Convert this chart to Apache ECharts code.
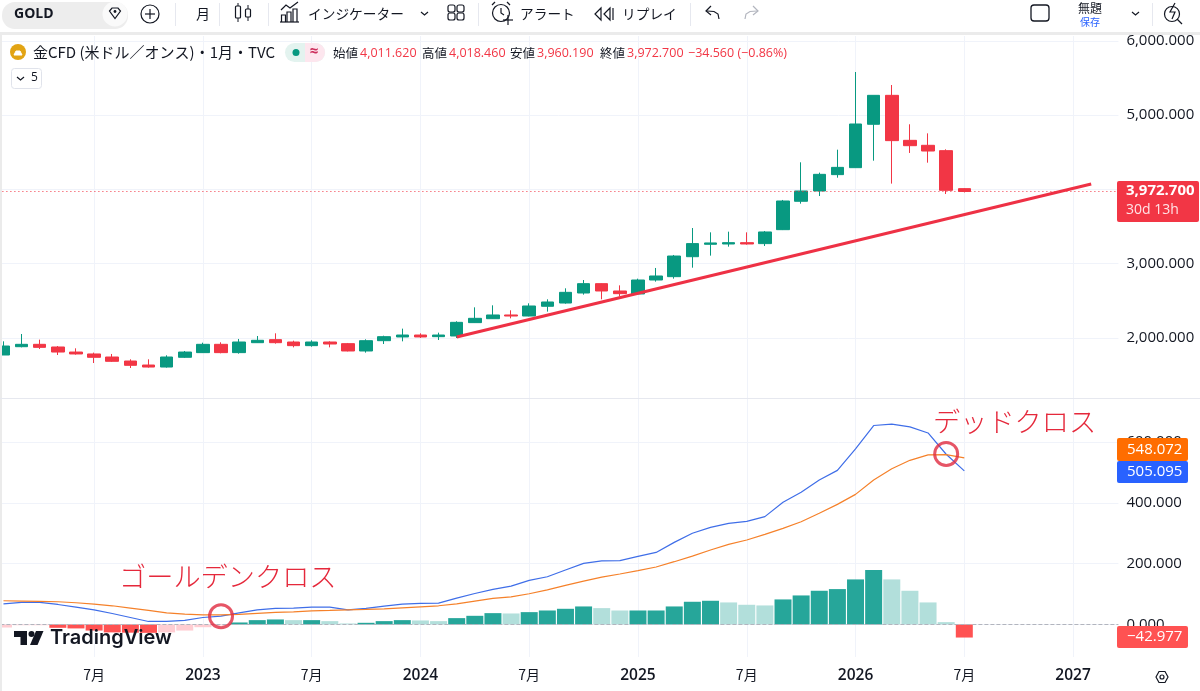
<!DOCTYPE html>
<html><head><meta charset="utf-8">
<style>html,body{margin:0;padding:0;background:#fff}#c{width:1200px;height:691px}</style>
<script src="https://cdn.jsdelivr.net/npm/echarts@6/dist/echarts.min.js"></script>
</head><body><div id="c"></div>
<script>
const categories = ["2022-02","2022-03","2022-04","2022-05","2022-06","2022-07","2022-08","2022-09","2022-10","2022-11","2022-12",
"2023-01","2023-02","2023-03","2023-04","2023-05","2023-06","2023-07","2023-08","2023-09","2023-10","2023-11","2023-12",
"2024-01","2024-02","2024-03","2024-04","2024-05","2024-06","2024-07","2024-08","2024-09","2024-10","2024-11","2024-12",
"2025-01","2025-02","2025-03","2025-04","2025-05","2025-06","2025-07","2025-08","2025-09","2025-10","2025-11","2025-12",
"2026-01","2026-02","2026-03","2026-04","2026-05","2026-06","2026-07","2026-08","2026-09","2026-10","2026-11","2026-12",
"2027-01","2027-02","2027-03"];
const opens  = [1771,1883,1915,1879,1811,1785,1744,1690,1636,1609,1740,1803,1915,1803,1937,1978,1946,1897,1946,1924,1825,1964,2014,2040,2018,2027,2207,2260,2310,2296,2427,2471,2606,2732,2633,2593,2781,2826,3095,3262,3266,3284,3271,3459,3841,3980,4200,4294,4878,5268,4662,4595,4523,4011.62];
const closes = [1892,1915,1874,1811,1785,1740,1686,1632,1609,1744,1811,1915,1803,1946,1969,1937,1897,1946,1919,1825,1964,2018,2040,2014,2040,2211,2265,2310,2296,2431,2485,2615,2732,2633,2597,2781,2835,3104,3271,3280,3284,3266,3428,3845,3980,4204,4298,4882,5268,4658,4590,4518,3989,3972.7];
const lows   = [1771,1874,1852,1771,1776,1663,1677,1596,1601,1601,1731,1798,1794,1789,1933,1924,1874,1883,1874,1820,1803,1919,1955,2000,1973,2000,2202,2256,2265,2292,2355,2462,2584,2521,2561,2584,2759,2799,2947,3109,3230,3257,3239,3454,3809,3912,4159,4294,4388,4079,4492,4361,3939,3960.19];
const highs  = [1955,2054,1978,1892,1861,1803,1785,1713,1713,1767,1825,1937,1942,1987,2027,2063,1964,1969,1955,1933,1982,2031,2126,2063,2072,2225,2413,2440,2373,2467,2521,2669,2781,2736,2709,2799,2943,3118,3481,3423,3432,3423,3441,3859,4366,4227,4536,5582,5268,5407,4878,4756,4541,4018.46];
const macdLine = [68,72.4,72.4,65.8,57,48.3,36.2,23,9.9,9.9,13.2,23,27.4,38.4,48.3,52.7,53.8,57,57,48.3,52.7,60.4,67,69.2,70.3,86.7,102,115.3,126.3,145,157,179,201,209,210,224,237,270,300,319.6,332.7,339,354.7,402,435,475.5,507,577.6,654.5,658.9,650,630,560,505.095];
const signalLine = [78,76.9,75.8,74.7,71.4,67,61.5,53.8,46.1,38.4,34,31.8,31.8,32.9,36.2,39.5,41.7,45,46.1,48.3,49.4,51.6,54.9,58.2,61.5,68,76.9,85.6,91,101,114,128.5,142.8,156,166,177,189,206.5,225,245,263.6,278,296.5,316,338,366,395,428,475.5,512,540,558,559,548.072];
const histogram = [-10,-2.5,-2.5,-11,-13,-20,-26,-27,-27.5,-26,-20,-9,-3,6.6,14.3,16.5,14.3,14.3,11,3.3,5.5,11,14.3,13.2,11,20.9,28.5,37.3,36.2,40.6,46,51.6,59.3,53.8,46,46,46,59.3,74.7,78,72.5,64.8,62.6,82.4,95.5,110.9,116.4,148.2,179,148.2,110.9,72.5,7.7,-42.977];
const priceTicks = [2000,3000,4000,5000,6000];
const macdTicks = [0,200,400,600];
const trendLine = [[25,2013],[60,4074]];
const goldenCross = [[12,27]];
const deadCross = [[52,561]];
const lastClose = 3972.7;

const UP='#089981', DOWN='#f23645', INK='#131722', GRID='#f0f3fa';
const LAT='"Open Sans","Noto Sans CJK JP",sans-serif';
const JP='"Noto Sans CJK JP","Open Sans",sans-serif';
const g=[];
const Z=100;
function T(text,x,y,size,fill,o={}){g.push({type:'text',z:Z+2,style:{text,x,y,fill,font:(o.weight||'normal')+' '+size+'px '+(o.font||JP),textAlign:o.align||'left',textVerticalAlign:'middle'}});}
function L(x1,y1,x2,y2,stroke,lw=1){g.push({type:'line',z:Z,shape:{x1,y1,x2,y2},style:{stroke,lineWidth:lw}});}
function R(x,y,w,h,fill,r=0,stroke=null,lw=1){g.push({type:'rect',z:Z,shape:{x,y,width:w,height:h,r},style:{fill,stroke,lineWidth:lw}});}
function C(cx,cy,r,fill,stroke=null,lw=1.2){g.push({type:'circle',z:Z+1,shape:{cx,cy,r},style:{fill,stroke,lineWidth:lw}});}
// small icon helper: M/L/H/V/Z commands become polylines or polygons
function P(d,stroke=INK,lw=1.2,fill='none'){
  const toks=d.match(/[MLHVZ]|-?[\d.]+/g);let i=0,cur=null,x=0,y=0,cmd='';
  const flush=(closed)=>{if(cur&&cur.length>1)g.push({type:closed?'polygon':'polyline',z:Z+1,shape:{points:cur},style:{stroke:lw?stroke:null,lineWidth:lw,fill:closed?fill:null}});cur=null;};
  while(i<toks.length){
    const t=toks[i];
    if(/[MLHVZ]/.test(t)){cmd=t;i++;if(t==='Z'){flush(true);continue;}}
    if(cmd==='M'){flush(false);x=+toks[i++];y=+toks[i++];cur=[[x,y]];cmd='L';}
    else if(cmd==='L'){x=+toks[i++];y=+toks[i++];cur.push([x,y]);}
    else if(cmd==='H'){x=+toks[i++];cur.push([x,y]);}
    else if(cmd==='V'){y=+toks[i++];cur.push([x,y]);}
  }
  flush(false);
}

// page chrome
R(0,0,1200,32,'#fff');
R(0,32,1200,3,'#ebebeb');
R(0,35,2,656,'#ebebeb');
L(0,398.5,1200,398.5,'#e6e8ef',1);
// toolbar
R(2,2,126,27,'#ededed',13);
T('GOLD',14,14,14,INK,{weight:'bold',font:LAT});
C(115,14,12.5,'#fafafa');
P('M109.5 11 L112 8 H118 L120.5 11 L115 18.5 Z');
C(115,11.5,1.4,INK);
C(150,14,9,'none',INK);
L(145,14,155,14,INK,1.2);L(150,9,150,19,INK,1.2);
[175,219,268,478,690,1152].forEach(x=>L(x+.5,3,x+.5,26,'#e6e8ef'));
T('月',196,14,14,INK);
L(238,3,238,22,INK);R(235.5,6,5,12,'#fff',1,INK,1.2);
L(248,5,248,21,INK);R(245.5,9,5,8,'#fff',1,INK,1.2);
P('M281.5 22 V15 H285.5 V22 M287 22 V12 H291 V22 M293 22 V9 H297 V22 M280 22 H299 M281 10 L286 5 L290 8 L298 2');
T('インジケーター',308,13.5,13.7,INK);
P('M421 12 L424.5 15 L428 12');
[[448,5],[457,5],[448,13],[457,13]].forEach(a=>R(a[0],a[1],7,7,'none',2,INK,1.2));
C(501,13,8.5,'none',INK);
P('M501 8 V13 L504 15 M492 5 L495 2 M507 2 L510 5 M503 20 H513 M508 15 V25');
T('アラート',520,13.5,13.7,INK);
P('M601 8 L595 14 L601 20 Z M610 8 L604 14 L610 20 Z M613 8 V20');
T('リプレイ',622,13.5,13.7,INK);
P('M719 19 L718 14 L714 11.5 L707 11 M711 6 L706 11 L711 15');
P('M745 19 L746 14 L750 11.5 L757 11 M753 6 L758 11 L753 15','#b2b5be');
R(1031,5,18,16,'#fff',3,INK,1.3);
T('無題',1090,8,12,INK,{align:'center'});
T('保存',1090,22,10,'#2962ff',{align:'center'});
P('M1132 12 L1135.5 15 L1139 12');
C(1172,14,7.5,'none',INK);
P('M1177 19 L1182 24 M1175 3 L1170 12 H1175 L1172 19');
// legend row
C(18,52,8,'#e2a414');
P('M14 55 H22 L20 51 H16 Z','#fff',1,'#fff');
T('金CFD (米ドル／オンス)・1月・TVC',33,52,15,INK);
R(285,43,40,19,'#e3f3ef',9.5);
R(305,43,20,19,'#fde6ee',9.5);R(305,43,10,19,'#fde6ee');
C(296,52.5,3.5,UP);
T('≈',314,52,15,'#cc2f5c',{align:'center',weight:'bold',font:LAT});
const red='#f23645';
T('始値',333,53,12.5,INK);T('4,011.620',360,53,12.5,red,{font:LAT});
T('高値',422,53,12.5,INK);T('4,018.460',449,53,12.5,red,{font:LAT});
T('安値',510,53,12.5,INK);T('3,960.190',537,53,12.5,red,{font:LAT});
T('終値',600,53,12.5,INK);T('3,972.700',627,53,12.5,red,{font:LAT});
T('−34.560 (−0.86%)',688,53,12.5,red,{font:LAT});
R(11.5,68.5,30,20,'#fff',3,'#e0e3eb',1);
P('M17 77 L20.5 80 L24 77');
T('5',31,78,12,INK,{font:LAT});
// price tags
R(1117,181,82,41,'#f23645',2);
T('3,972.700',1126,191,15,'#fff',{font:LAT,weight:'bold'});
T('30d 13h',1126,210,14,'#ffe3e6',{font:LAT});
R(1117,438,71,23,'#ff6d00',2);
T('548.072',1127,450,15,'#fff',{font:LAT});
R(1117,461,71,22,'#2962ff',2);
T('505.095',1127,472,15,'#fff',{font:LAT});
R(1117,626,71,22,'#ff5252',2);
T('−42.977',1127,637,15,'#fff',{font:LAT});
// annotations
T('ゴールデンクロス',119,577,27.2,'#e5283b',{weight:'300'});
T('デッドクロス',933,422,27.2,'#e5283b',{weight:'300'});
// watermark
P('M14 631 H27 V645 H20.5 V637 H14 Z',INK,0,INK);
C(31.5,634,3,INK);
P('M36 631 H43.5 L37.5 645 H30 Z',INK,0,INK);
T('TradingView',50,638,20,INK,{font:'"Inter","Open Sans",sans-serif',weight:'600'});
// settings hexagon
P('M1156 677 L1159 671.5 H1165 L1168 677 L1165 682.5 H1159 Z');
C(1162,677,2,'none',INK);

const isMajor=i=>{const m=categories[i].slice(5);return m==='01'||m==='07';};
const fmtX=(v)=>{const m=v.slice(5);return m==='01'?'{y|'+v.slice(0,4)+'}':'{m|'+(+m)+'月}';};
const fmtY=v=>v.toLocaleString('en-US',{minimumFractionDigits:3,maximumFractionDigits:3});
const splitX={show:true,alignWithLabel:true,interval:(i)=>isMajor(i),lineStyle:{color:GRID,width:1}};
const splitY={show:true,lineStyle:{color:GRID,width:1}};
const labelY={fontFamily:LAT,fontSize:15,color:INK,margin:8,formatter:fmtY};

const histData=histogram.map((v,i)=>{
  const p=i?histogram[i-1]:null;
  let color;
  if(v>=0) color=(p===null||v>=p)?'#26a69a':'#b2dfdb';
  else color=(p!==null&&v<p)?'#ff5252':'#ffcdd2';
  return {value:v,itemStyle:{color}};
});
const candleData=opens.map((o,i)=>[o,closes[i],lows[i],highs[i]]);

const chart=echarts.init(document.getElementById('c'),null,{renderer:'canvas'});
chart.setOption({
  animation:false,
  backgroundColor:'#fff',
  grid:[
    {left:-5.6,width:1124,top:36,height:362,outerBoundsMode:'none'},
    {left:-5.6,width:1124,top:398,height:259,outerBoundsMode:'none'}
  ],
  xAxis:[
    {type:'category',gridIndex:0,data:categories,axisLine:{show:false},axisTick:{show:false},axisLabel:{show:false},splitLine:splitX},
    {type:'category',gridIndex:1,data:categories,axisLine:{show:false},axisTick:{show:false},splitLine:splitX,
      axisLabel:{show:true,interval:(i)=>isMajor(i),formatter:fmtX,margin:11,
        rich:{y:{fontFamily:LAT,fontSize:15.5,fontWeight:'600',color:INK},m:{fontFamily:JP,fontSize:14,color:INK}}}}
  ],
  yAxis:[
    {type:'value',gridIndex:0,position:'right',min:1192,max:6067,scale:true,axisLine:{show:false},
      axisTick:{show:false,customValues:priceTicks},axisLabel:Object.assign({customValues:priceTicks},labelY),splitLine:splitY},
    {type:'value',gridIndex:1,position:'right',min:-107,max:745,axisLine:{show:false},
      axisTick:{show:false,customValues:macdTicks},axisLabel:Object.assign({customValues:macdTicks},labelY),splitLine:splitY}
  ],
  series:[
    {type:'candlestick',name:'金CFD',xAxisIndex:0,yAxisIndex:0,barWidth:13,data:candleData,
      itemStyle:{color:UP,color0:DOWN,borderColor:UP,borderColor0:DOWN,borderWidth:1}},
    {type:'line',name:'trend',xAxisIndex:0,yAxisIndex:0,data:trendLine,showSymbol:false,symbol:'none',lineStyle:{color:'#ee3145',width:3},
      markLine:{silent:true,symbol:'none',label:{show:false},data:[{yAxis:lastClose}],lineStyle:{color:'#f23645',type:[1,3],width:1}}},
    {type:'bar',name:'Histogram',xAxisIndex:1,yAxisIndex:1,barWidth:17,data:histData,
      markLine:{silent:true,symbol:'none',label:{show:false},data:[{yAxis:0,lineStyle:{color:'#b2b5be',type:'dashed',width:1}}]}},
    {type:'line',name:'MACD',xAxisIndex:1,yAxisIndex:1,data:macdLine,symbol:'none',lineStyle:{color:'#3f6ee8',width:1.2}},
    {type:'line',name:'Signal',xAxisIndex:1,yAxisIndex:1,data:signalLine,symbol:'none',lineStyle:{color:'#f5812a',width:1.2}},
    {type:'scatter',name:'golden',xAxisIndex:1,yAxisIndex:1,data:goldenCross,symbol:'circle',symbolSize:23,itemStyle:{color:'rgba(0,0,0,0)',borderColor:'#e02b40',borderWidth:3},z:6},
    {type:'scatter',name:'dead',xAxisIndex:1,yAxisIndex:1,data:deadCross,symbol:'circle',symbolSize:23,itemStyle:{color:'rgba(0,0,0,0)',borderColor:'#e02b40',borderWidth:3},z:6}
  ],
  graphic:{elements:g}
});
</script></body></html>
